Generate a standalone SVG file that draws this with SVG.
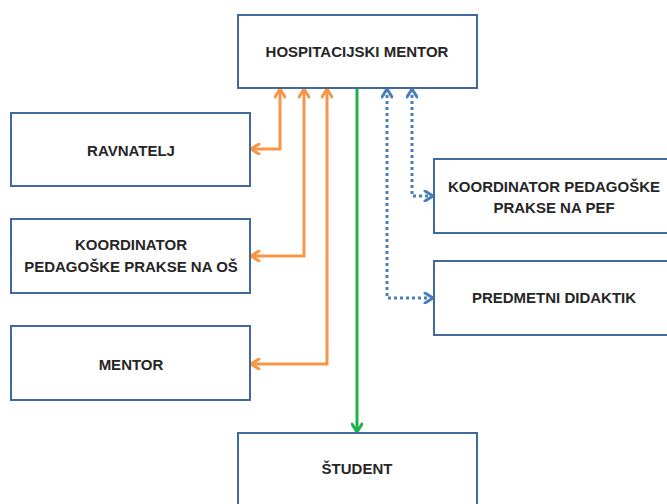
<svg xmlns="http://www.w3.org/2000/svg" width="667" height="504" viewBox="0 0 667 504">
  <style>
    .box { fill: #ffffff; stroke: #41699b; stroke-width: 2; }
    .lbl { font-family: "Liberation Sans", Arial, sans-serif; font-weight: bold; font-size: 15px; fill: #262626; text-anchor: middle; }
    .or { fill: none; stroke: #f79646; stroke-width: 3; }
    .gr { fill: none; stroke: #1fb24a; stroke-width: 3; }
    .bl { fill: none; stroke: #4a7ebb; stroke-width: 3; stroke-dasharray: 3 3; }
  </style>
  <defs>
    <marker id="headOr" viewBox="0 0 12 12" refX="10" refY="6" markerWidth="12" markerHeight="12" markerUnits="userSpaceOnUse" orient="auto-start-reverse">
      <path d="M2,1 L10,6 L2,11" fill="none" stroke="#f79646" stroke-width="3" stroke-linecap="round" stroke-linejoin="round"/>
    </marker>
    <marker id="headGr" viewBox="0 0 12 12" refX="10" refY="6" markerWidth="12" markerHeight="12" markerUnits="userSpaceOnUse" orient="auto">
      <path d="M2,1 L10,6 L2,11" fill="none" stroke="#1fb24a" stroke-width="3" stroke-linecap="round" stroke-linejoin="round"/>
    </marker>
    <marker id="headBl" viewBox="0 0 12 12" refX="10" refY="6" markerWidth="12" markerHeight="12" markerUnits="userSpaceOnUse" orient="auto-start-reverse">
      <path d="M2,1 L10,6 L2,11" fill="none" stroke="#4a7ebb" stroke-width="3" stroke-linecap="round" stroke-linejoin="round"/>
    </marker>
  </defs>
  <rect width="667" height="504" fill="#ffffff"/>

  <g id="connectors">
    <path class="or" d="M280,89 V149 H251" marker-start="url(#headOr)" marker-end="url(#headOr)"/>
    <path class="or" d="M304,89 V256 H251" marker-start="url(#headOr)" marker-end="url(#headOr)"/>
    <path class="or" d="M327,89 V364 H251" marker-start="url(#headOr)" marker-end="url(#headOr)"/>
    <path class="gr" d="M357,88 V432" marker-end="url(#headGr)"/>
    <path class="bl" d="M412,89 V196 H433" marker-start="url(#headBl)" marker-end="url(#headBl)"/>
    <path class="bl" d="M387,89 V298 H433" marker-start="url(#headBl)" marker-end="url(#headBl)"/>
  </g>

  <g id="hospitacijski-mentor">
    <rect class="box" x="238" y="15" width="239" height="73"/>
    <text class="lbl" x="357" y="57">HOSPITACIJSKI MENTOR</text>
  </g>
  <g id="ravnatelj">
    <rect class="box" x="11" y="113" width="239" height="73"/>
    <text class="lbl" x="131" y="156">RAVNATELJ</text>
  </g>
  <g id="koordinator-os">
    <rect class="box" x="11" y="219" width="239" height="74"/>
    <text class="lbl" x="131" y="250">KOORDINATOR</text>
    <text class="lbl" x="131" y="272">PEDAGOŠKE PRAKSE NA OŠ</text>
  </g>
  <g id="mentor">
    <rect class="box" x="11" y="326" width="239" height="74"/>
    <text class="lbl" x="131" y="370">MENTOR</text>
  </g>
  <g id="koordinator-pef">
    <rect class="box" x="434" y="159" width="240" height="74"/>
    <text class="lbl" x="554" y="192">KOORDINATOR PEDAGOŠKE</text>
    <text class="lbl" x="554" y="213">PRAKSE NA PEF</text>
  </g>
  <g id="predmetni-didaktik">
    <rect class="box" x="434" y="261" width="240" height="74"/>
    <text class="lbl" x="554" y="303">PREDMETNI DIDAKTIK</text>
  </g>
  <g id="student">
    <rect class="box" x="238" y="433" width="239" height="80"/>
    <text class="lbl" x="357" y="474">ŠTUDENT</text>
  </g>
</svg>
